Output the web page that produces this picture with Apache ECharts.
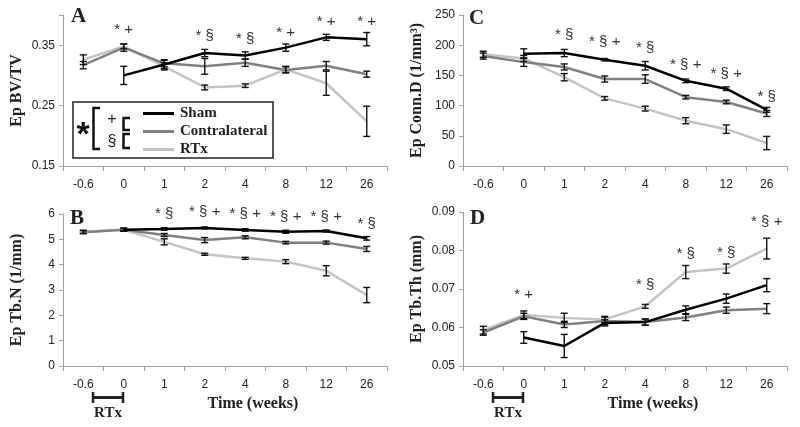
<!DOCTYPE html>
<html><head><meta charset="utf-8">
<script src="https://cdn.jsdelivr.net/npm/echarts@6/dist/echarts.min.js"></script>
<style>html,body{margin:0;padding:0;background:#fff}#c{width:800px;height:427px}</style>
</head><body><div id="c"></div>
<script>
// ---------- data ----------
const cats = ['-0.6','0','1','2','4','8','12','26'];
const seriesNames = ['Sham','Contralateral','RTx'];

// Panel A: Ep BV/TV
const shamA   = [null, 0.300, 0.318, 0.337, 0.333, 0.346, 0.363, 0.360];
const contraA = [0.317, 0.346, 0.320, 0.315, 0.321, 0.309, 0.316, 0.302];
const rtxA    = [0.326, 0.348, 0.315, 0.280, 0.283, 0.310, 0.287, 0.224];
const shamAErr   = [null, 0.015, 0.007, 0.006, 0.006, 0.006, 0.005, 0.011];
const contraAErr = [0.006, 0.006, 0.006, 0.013, 0.006, 0.005, 0.007, 0.005];
const rtxAErr    = [0.008, 0.004, 0.006, 0.004, 0.003, 0.005, 0.020, 0.025];
const annAText = ['', '* +', '', '* §', '* §', '* +', '* +', '* +'];
const annAY    = [null, 0.375, null, 0.366, 0.361, 0.371, 0.388, 0.388];
const ticksA   = [0.15, 0.25, 0.35];

// Panel B: Ep Tb.N
const shamB   = [null, 5.38, 5.41, 5.45, 5.37, 5.30, 5.33, 5.04];
const contraB = [5.28, 5.38, 5.17, 4.97, 5.08, 4.87, 4.87, 4.62];
const rtxB    = [5.30, 5.38, 4.90, 4.41, 4.25, 4.12, 3.76, 2.80];
const shamBErr   = [null, 0.05, 0.05, 0.04, 0.05, 0.06, 0.04, 0.07];
const contraBErr = [0.06, 0.06, 0.06, 0.10, 0.06, 0.05, 0.06, 0.10];
const rtxBErr    = [0.06, 0.06, 0.12, 0.04, 0.04, 0.08, 0.20, 0.30];
const annBText = ['', '', '* §', '* § +', '* § +', '* § +', '* § +', '* §'];
const annBY    = [null, null, 6.0, 6.07, 6.0, 5.9, 5.9, 5.63];
const ticksB   = [0, 1, 2, 3, 4, 5, 6];

// Panel C: Ep Conn.D
const shamC   = [null, 186, 187, 176, 166, 141, 128, 93];
const contraC = [182, 172, 164, 144, 144, 114, 106, 87];
const rtxC    = [185, 178, 147, 112, 95, 75, 61, 38];
const shamCErr   = [null, 8, 6, 2, 7, 3, 3, 4];
const contraCErr = [5, 7, 5, 5, 7, 3, 3, 5];
const rtxCErr    = [5, 5, 6, 3, 4, 5, 7, 11];
const annCText = ['', '', '* §', '* § +', '* §', '* § +', '* § +', '* §'];
const annCY    = [null, null, 217, 206, 195, 167, 153, 114];
const ticksC   = [0, 50, 100, 150, 200, 250];

// Panel D: Ep Tb.Th
const shamD   = [null, 0.0574, 0.0552, 0.0612, 0.0614, 0.0646, 0.0675, 0.0710];
const contraD = [0.0587, 0.0629, 0.0608, 0.0617, 0.0614, 0.0626, 0.0645, 0.0649];
const rtxD    = [0.0593, 0.0633, 0.0625, 0.0621, 0.0655, 0.0744, 0.0753, 0.0805];
const shamDErr   = [null, 0.0015, 0.0030, 0.0008, 0.0008, 0.0010, 0.0012, 0.0017];
const contraDErr = [0.0007, 0.0008, 0.0008, 0.0010, 0.0008, 0.0008, 0.0008, 0.0013];
const rtxDErr    = [0.0010, 0.0010, 0.0012, 0.0008, 0.0005, 0.0017, 0.0012, 0.0027];
const annDText = ['', '* +', '', '', '* §', '* §', '* §', '* § +'];
const annDY    = [null, 0.0684, null, null, 0.0710, 0.0792, 0.0793, 0.0874];
const ticksD   = [0.05, 0.06, 0.07, 0.08, 0.09];

// ---------- styling ----------
const colors = {Sham:'#000000', Contralateral:'#808080', RTx:'#c4c4c4'};
const serif = '"Liberation Serif", "DejaVu Serif", serif';
const sans = '"Liberation Sans", Arial, sans-serif';
const axisGray = '#a0a0a0';

function errItem(params, api) {
  const i = api.value(0);
  const lo = api.coord([i, api.value(1)]);
  const hi = api.coord([i, api.value(2)]);
  const x = lo[0], w = 3.5;
  const st = {stroke:'#111', lineWidth:1.4};
  return {type:'group', children:[
    {type:'line', shape:{x1:x, y1:lo[1], x2:x, y2:hi[1]}, style:st},
    {type:'line', shape:{x1:x-w, y1:lo[1], x2:x+w, y2:lo[1]}, style:st},
    {type:'line', shape:{x1:x-w, y1:hi[1], x2:x+w, y2:hi[1]}, style:st}
  ]};
}

function panelSeries(gi, vals, errs, annText, annY) {
  const out = [];
  [2,1,0].forEach(k => {
    const name = seriesNames[k];
    out.push({
      type:'line', name:name, xAxisIndex:gi, yAxisIndex:gi,
      data: vals[k], showSymbol:false, symbol:'none', connectNulls:false,
      color: colors[name],
      lineStyle:{color:colors[name], width:2.5},
      itemStyle:{color:colors[name]}, z:2, animation:false
    });
  });
  [2,1,0].forEach(k => {
    const d = [];
    vals[k].forEach((v, i) => { if (v != null) d.push([i, v - errs[k][i], v + errs[k][i]]); });
    out.push({
      type:'custom', name:'err'+gi+k, xAxisIndex:gi, yAxisIndex:gi,
      renderItem: errItem, data:d, encode:{x:0, y:[1,2]}, z:3, animation:false, silent:true
    });
  });
  const ad = [], at = [];
  annY.forEach((y, i) => { if (y != null && annText[i]) { ad.push([i, y]); at.push(annText[i]); } });
  out.push({
    type:'custom', name:'ann'+gi, xAxisIndex:gi, yAxisIndex:gi, data:ad, encode:{x:0, y:1},
    z:4, animation:false, silent:true,
    renderItem: (params, api) => {
      const p = api.coord([api.value(0), api.value(1)]);
      return {type:'text', x:p[0], y:p[1], style:{
        text: at[params.dataIndex], fill:'#333', font:'15px ' + sans,
        align:'center', verticalAlign:'middle'}};
    }
  });
  return out;
}

const grids = [
  {left:63,  top:15,  width:324, height:151}, // A
  {left:63,  top:214, width:324, height:152}, // B
  {left:463, top:15,  width:324, height:151}, // C
  {left:463, top:212, width:324, height:154}  // D
];

function xAxis(gi, withName) {
  const ax = {
    type:'category', gridIndex:gi, data:cats, boundaryGap:true,
    axisLine:{lineStyle:{color:axisGray, width:1}},
    axisTick:{show:true, length:5, lineStyle:{color:axisGray}},
    axisLabel:{color:'#222', fontSize:12, fontFamily:sans, margin:13, interval:0},
    splitLine:{show:false}
  };
  if (withName) {
    ax.name = 'Time (weeks)';
    ax.nameLocation = 'middle';
    ax.nameGap = 30;
    ax.nameTextStyle = {fontFamily:serif, fontWeight:'bold', fontSize:16, color:'#222', padding:[0,0,0,56]};
  }
  return ax;
}
function yAxis(gi, name, min, max, interval, dec, shown) {
  return {
    type:'value', gridIndex:gi, min:min, max:max, interval:interval,
    name:name, nameLocation:'middle', nameGap:38,
    nameTextStyle:{fontFamily:serif, fontWeight:'bold', fontSize:16, color:'#222'},
    axisLine:{show:true, lineStyle:{color:axisGray, width:1}},
    axisTick:{show:true, length:4, lineStyle:{color:axisGray}},
    axisLabel:{color:'#222', fontSize:12, fontFamily:sans, margin:8, showMaxLabel:true, showMinLabel:true,
      formatter: v => {
        const ok = shown.some(t => Math.abs(t - v) < interval * 1e-3);
        if (!ok) return '';
        return dec ? Number(v).toFixed(dec) : String(Math.round(v));
      }},
    splitLine:{show:false}
  };
}

const graphic = [
  {type:'text', left:71, top:6, style:{text:'A', font:'bold 21px ' + serif, fill:'#222'}},
  {type:'text', left:70, top:208, style:{text:'B', font:'bold 21px ' + serif, fill:'#222'}},
  {type:'text', left:469, top:8, style:{text:'C', font:'bold 21px ' + serif, fill:'#222'}},
  {type:'text', left:470, top:208, style:{text:'D', font:'bold 21px ' + serif, fill:'#222'}},
  {type:'rect', shape:{x:73, y:102, width:200, height:56}, style:{fill:'#fff', stroke:'#222', lineWidth:1.5}, z:5},
  {type:'text', x:83, y:136, style:{text:'*', font:'bold 34px ' + sans, fill:'#111', align:'center', verticalAlign:'middle'}, z:6},
  {type:'polyline', shape:{points:[[100,108],[93.5,108],[93.5,149],[100,149]]}, style:{stroke:'#111', lineWidth:2.5, fill:null}, z:6},
  {type:'text', x:112, y:120, style:{text:'+', font:'16px ' + sans, fill:'#222', align:'center', verticalAlign:'middle'}, z:6},
  {type:'text', x:112, y:142, style:{text:'§', font:'16px ' + sans, fill:'#222', align:'center', verticalAlign:'middle'}, z:6},
  {type:'polyline', shape:{points:[[130,118],[123.5,118],[123.5,130],[130,130]]}, style:{stroke:'#111', lineWidth:2.5, fill:null}, z:6},
  {type:'polyline', shape:{points:[[130,134],[123.5,134],[123.5,148],[130,148]]}, style:{stroke:'#111', lineWidth:2.5, fill:null}, z:6},
  {type:'polyline', shape:{points:[[93,392],[93,403]]}, style:{stroke:'#222', lineWidth:2.5}},
  {type:'polyline', shape:{points:[[93,397.5],[123,397.5]]}, style:{stroke:'#222', lineWidth:3}},
  {type:'polyline', shape:{points:[[123,392],[123,403]]}, style:{stroke:'#222', lineWidth:2.5}},
  {type:'text', x:108, y:413, style:{text:'RTx', font:'bold 15px ' + serif, fill:'#222', align:'center', verticalAlign:'middle'}},
  {type:'polyline', shape:{points:[[493,392],[493,403]]}, style:{stroke:'#222', lineWidth:2.5}},
  {type:'polyline', shape:{points:[[493,397.5],[523,397.5]]}, style:{stroke:'#222', lineWidth:3}},
  {type:'polyline', shape:{points:[[523,392],[523,403]]}, style:{stroke:'#222', lineWidth:2.5}},
  {type:'text', x:508, y:413, style:{text:'RTx', font:'bold 15px ' + serif, fill:'#222', align:'center', verticalAlign:'middle'}}
];

const series = [].concat(
  panelSeries(0, [shamA, contraA, rtxA], [shamAErr, contraAErr, rtxAErr], annAText, annAY),
  panelSeries(1, [shamB, contraB, rtxB], [shamBErr, contraBErr, rtxBErr], annBText, annBY),
  panelSeries(2, [shamC, contraC, rtxC], [shamCErr, contraCErr, rtxCErr], annCText, annCY),
  panelSeries(3, [shamD, contraD, rtxD], [shamDErr, contraDErr, rtxDErr], annDText, annDY)
);

const option = {
  backgroundColor:'#fff',
  animation:false,
  grid: grids,
  xAxis: [xAxis(0,false), xAxis(1,true), xAxis(2,false), xAxis(3,true)],
  yAxis: [
    yAxis(0, 'Ep BV/TV', 0.15, 0.40, 0.1, 2, ticksA),
    yAxis(1, 'Ep Tb.N (1/mm)', 0, 6, 1, 0, ticksB),
    yAxis(2, 'Ep Conn.D (1/mm³)', 0, 250, 50, 0, ticksC),
    yAxis(3, 'Ep Tb.Th (mm)', 0.05, 0.09, 0.01, 2, ticksD)
  ],
  legend: {
    data: seriesNames, orient:'vertical', left:138, top:101,
    itemWidth:31, itemHeight:3, itemGap:3, icon:'rect', selectedMode:false,
    textStyle:{fontFamily:serif, fontWeight:'bold', fontSize:15, color:'#222', padding:[0,0,0,1]},
    z:10
  },
  graphic: graphic,
  series: series
};
const chart = echarts.init(document.getElementById('c'), null, {renderer:'canvas'});
chart.setOption(option);
</script></body></html>
